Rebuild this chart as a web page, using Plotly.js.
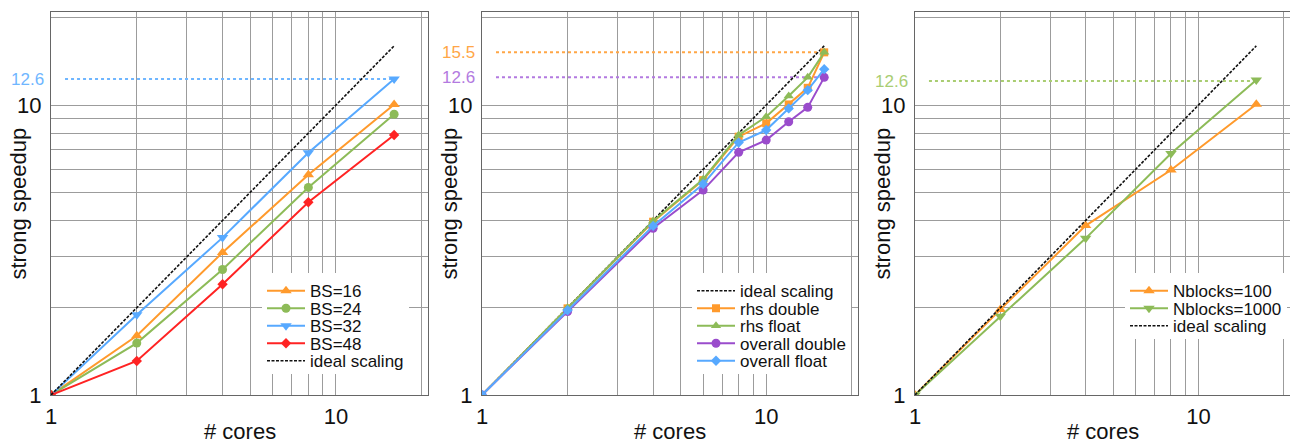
<!DOCTYPE html>
<html><head><meta charset="utf-8">
<script src="https://cdn.plot.ly/plotly-3.0.1.min.js"></script>
<style>html,body{margin:0;padding:0;background:#fff;}#chart{width:1290px;height:444px;}</style>
</head><body><div id="chart"></div>
<script>
// ---------- data ----------
// Panel 1: block size
const coresA = [1, 2, 4, 8, 16];
const bs16 = [1, 1.6, 3.1, 5.75, 10.05];
const bs24 = [1, 1.51, 2.71, 5.2, 9.3];
const bs32 = [1, 1.89, 3.49, 6.85, 12.3];
const bs48 = [1, 1.31, 2.41, 4.62, 7.88];
const idealA = [1, 2, 4, 8, 16];
const refA = [12.3];
const refALabels = ['12.6'];

// Panel 2: rhs / overall, double / float
const coresB = [1, 2, 4, 6, 8, 10, 12, 14, 16];
const rhsDouble = [1, 1.99, 3.96, 5.51, 7.78, 8.65, 10.05, 11.47, 15.2];
const rhsFloat = [1, 2.0, 3.98, 5.55, 7.88, 9.12, 10.74, 12.46, 15.2];
const overallDouble = [1, 1.94, 3.76, 5.09, 6.87, 7.57, 8.76, 9.82, 12.46];
const overallFloat = [1, 1.96, 3.83, 5.34, 7.43, 8.2, 9.74, 11.26, 13.3];
const idealB = [1, 2, 4, 6, 8, 10, 12, 14, 16];
const refB = [15.2, 12.46];
const refBLabels = ['15.5', '12.6'];

// Panel 3: number of blocks
const coresC = [1, 2, 4, 8, 16];
const nb100 = [1, 1.97, 3.84, 5.97, 10.07];
const nb1000 = [1, 1.87, 3.47, 6.81, 12.2];
const idealC = [1, 2, 4, 8, 16];
const refC = [12.1];
const refCLabels = ['12.6'];

// Axis ticks / grid
const gridTicks = [1, 2, 3, 4, 5, 6, 7, 8, 9, 10, 20];
const gridLabels = ['1', '', '', '', '', '', '', '', '', '10', ''];

// ---------- style ----------
const C = {
  orange: '#ff9a2c', green: '#8dbb58', blue: '#57a9ff', red: '#ff2323', purple: '#9a4ccc',
  refBlue: '#6fb6ff', refOrange: '#ffa646', refPurple: '#b37ae0', refGreen: '#a9cd72'
};
const FONT = 'Liberation Sans, Arial, Helvetica, sans-serif';
const REF_X_START = 1.12;

function series(x, y, name, color, symbol, size, xa, ya, legend) {
  return {x, y, name, type: 'scatter', mode: 'lines+markers', xaxis: xa, yaxis: ya, legend,
    line: {color, width: 2}, marker: {color, symbol, size}, hoverinfo: 'skip'};
}
function ideal(x, y, xa, ya, legend) {
  return {x, y, name: 'ideal scaling', type: 'scatter', mode: 'lines', xaxis: xa, yaxis: ya, legend,
    line: {color: '#111', width: 1.6, dash: '3px,1.5px'}, hoverinfo: 'skip'};
}
function refLine(v, xEnd, color, xa, ya) {
  return {x: [REF_X_START, xEnd], y: [v, v], type: 'scatter', mode: 'lines', xaxis: xa, yaxis: ya,
    showlegend: false, line: {color, width: 2, dash: 'dot'}, hoverinfo: 'skip'};
}

const traces = [];
// panel 1
refA.forEach(v => traces.push(refLine(v, coresA[coresA.length - 1], C.refBlue, 'x', 'y')));
traces.push(series(coresA, bs16, 'BS=16', C.orange, 'triangle-up', 10, 'x', 'y', 'legend'));
traces.push(series(coresA, bs24, 'BS=24', C.green, 'circle', 9, 'x', 'y', 'legend'));
traces.push(series(coresA, bs32, 'BS=32', C.blue, 'triangle-down', 10, 'x', 'y', 'legend'));
traces.push(series(coresA, bs48, 'BS=48', C.red, 'diamond', 8, 'x', 'y', 'legend'));
traces.push(ideal(coresA, idealA, 'x', 'y', 'legend'));
// panel 2
traces.push(refLine(refB[0], coresB[coresB.length - 1], C.refOrange, 'x2', 'y2'));
traces.push(refLine(refB[1], coresB[coresB.length - 1], C.refPurple, 'x2', 'y2'));
traces.push(ideal(coresB, idealB, 'x2', 'y2', 'legend2'));
traces.push(series(coresB, rhsDouble, 'rhs double', C.orange, 'square', 8, 'x2', 'y2', 'legend2'));
traces.push(series(coresB, rhsFloat, 'rhs float', C.green, 'triangle-up', 9, 'x2', 'y2', 'legend2'));
traces.push(series(coresB, overallDouble, 'overall double', C.purple, 'circle', 9, 'x2', 'y2', 'legend2'));
traces.push(series(coresB, overallFloat, 'overall float', C.blue, 'diamond', 8, 'x2', 'y2', 'legend2'));
// panel 3
refC.forEach(v => traces.push(refLine(v, coresC[coresC.length - 1], C.refGreen, 'x3', 'y3')));
traces.push(series(coresC, nb100, 'Nblocks=100', C.orange, 'triangle-up', 10, 'x3', 'y3', 'legend3'));
traces.push(series(coresC, nb1000, 'Nblocks=1000', C.green, 'triangle-down', 10, 'x3', 'y3', 'legend3'));
traces.push(ideal(coresC, idealC, 'x3', 'y3', 'legend3'));

const W = 1290;
const doms = [[51 / W, 428 / W], [482 / W, 858 / W], [915 / W, 1]];
function xax(domain, anchor) {
  return {type: 'log', domain, anchor, range: [0, 1.323], tickmode: 'array', tickvals: gridTicks, ticktext: gridLabels,
    showgrid: true, gridcolor: '#9c9c9c', gridwidth: 1, showline: true, linecolor: '#666', linewidth: 1,
    mirror: true, ticks: '', tickfont: {size: 22, color: '#111', family: FONT}, zeroline: false, fixedrange: true,
    ticklabelstandoff: 2};
}
function yax(anchor) {
  return {type: 'log', domain: [0, 1], anchor, range: [0, 1.321], tickmode: 'array', tickvals: gridTicks, ticktext: gridLabels,
    showgrid: true, gridcolor: '#9c9c9c', gridwidth: 1, showline: true, linecolor: '#666', linewidth: 1,
    mirror: true, ticks: '', tickfont: {size: 22, color: '#111', family: FONT}, zeroline: false, fixedrange: true,
    ticklabelstandoff: 4};
}
function legendAt(x) {
  return {x, y: 0.318, xanchor: 'left', yanchor: 'top', bgcolor: '#ffffff', borderwidth: 0, itemwidth: 38,
    font: {size: 17, color: '#111', family: FONT}, traceorder: 'normal', tracegroupgap: 0};
}

const annotations = [];
doms.forEach((d, i) => {
  annotations.push({text: '# cores', xref: 'paper', yref: 'paper', x: (d[0] + d[1]) / 2, y: -0.095,
    xanchor: 'center', yanchor: 'middle', showarrow: false, font: {size: 22, color: '#111', family: FONT}});
  annotations.push({text: 'strong speedup', xref: 'paper', yref: 'paper', x: d[0] - 33 / W, y: 0.5, textangle: -90,
    xanchor: 'center', yanchor: 'middle', showarrow: false, font: {size: 22, color: '#111', family: FONT}});
});
function refLabel(v, label, color, xa, ya) {
  return {text: label, xref: xa, yref: ya, x: 0, y: Math.log10(v), xanchor: 'right', yanchor: 'middle',
    xshift: -5, showarrow: false, font: {size: 17, color, family: FONT}};
}
refA.forEach((v, i) => annotations.push(refLabel(v, refALabels[i], C.refBlue, 'x', 'y')));
annotations.push(refLabel(refB[0], refBLabels[0], C.refOrange, 'x2', 'y2'));
annotations.push(refLabel(refB[1], refBLabels[1], C.refPurple, 'x2', 'y2'));
refC.forEach((v, i) => annotations.push(refLabel(v, refCLabels[i], C.refGreen, 'x3', 'y3')));

const layout = {
  width: 1290, height: 444, margin: {l: 0, r: 0, t: 12, b: 49},
  paper_bgcolor: '#fff', plot_bgcolor: '#fff', font: {family: FONT, color: '#111'},
  xaxis: xax(doms[0], 'y'), yaxis: yax('x'),
  xaxis2: xax(doms[1], 'y2'), yaxis2: yax('x2'),
  xaxis3: xax(doms[2], 'y3'), yaxis3: yax('x3'),
  legend: legendAt(262 / W), legend2: legendAt(692 / W), legend3: legendAt(1125 / W),
  annotations, showlegend: true
};

function tightenLegends(gd) {
  const SP = 17.5;
  ['legend', 'legend2', 'legend3'].forEach(id => {
    const lg = gd.querySelector('g.' + id);
    if (!lg) return;
    const items = Array.from(lg.querySelectorAll('g.traces'));
    if (!items.length) return;
    let y0 = null;
    items.forEach((it, i) => {
      const t = it.getAttribute('transform') || '';
      const m = /translate\(\s*([-\d.e]+)[ ,]+([-\d.e]+)\s*\)/.exec(t);
      if (!m) return;
      if (y0 === null) y0 = parseFloat(m[2]);
      it.setAttribute('transform', 'translate(' + m[1] + ',' + (y0 + i * SP) + ')');
    });
    const bg = lg.querySelector('rect.bg');
    if (bg && y0 !== null) bg.setAttribute('height', y0 + (items.length - 1) * SP + SP / 2 + 4);
  });
}

Plotly.newPlot('chart', traces, layout, {staticPlot: true, displayModeBar: false}).then(tightenLegends);
</script>
</body></html>
